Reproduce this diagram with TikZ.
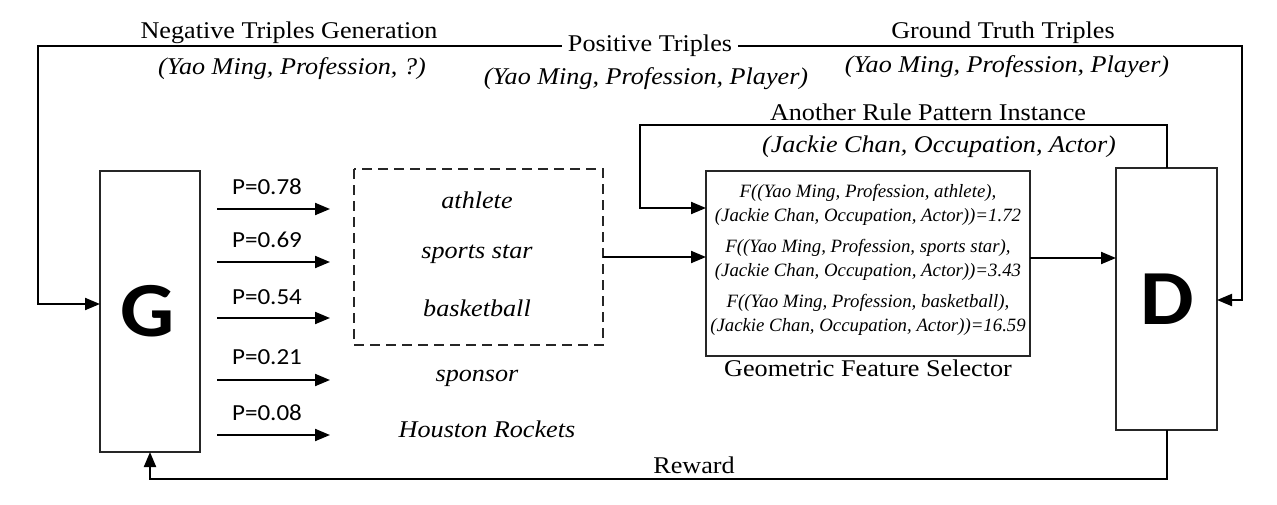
\documentclass[tikz,border=0pt]{standalone}
\usepackage{fontspec}
\setmainfont{Liberation Serif}[FakeStretch=1.09]
\newfontfamily\ifont{Liberation Serif Italic}[FakeStretch=1.09]
\newfontfamily\ffont{Liberation Serif Italic}
\newfontfamily\pfont{Carlito}[FakeStretch=1.09]
\usetikzlibrary{arrows.meta}
\tikzset{
  box/.style={draw=black!85, line width=1.3pt},
  conn/.style={line width=2pt, -{Triangle[length=15pt,width=12pt]}},
  lbl/.style={inner sep=0pt, font=\fontsize{24}{28}\selectfont},
  ilbl/.style={inner sep=0pt, font=\ifont\fontsize{24}{28}\selectfont},
  plbl/.style={inner sep=0pt, font=\pfont\fontsize{23}{27}\selectfont},
  ftxt/.style={inner sep=0pt, font=\ffont\fontsize{18.8}{20}\selectfont},
  big/.style={inner sep=0pt, font=\pfont\bfseries\fontsize{78}{80}\selectfont}
}
\begin{document}
\begin{tikzpicture}[x=1pt,y=1pt]
\useasboundingbox (0,0) rectangle (1277,-504);
% boxes
\draw[box] (100,-171) rectangle (200,-452);
\node[big] (G) at (148,-311) {G};
\coordinate (Gw) at (100,-304);
\coordinate (Gs) at (150,-452);
\draw[box] (1116,-168) rectangle (1217,-430);
\node[big] (D) at (1167,-299) {D};
\coordinate (Dwin) at (1116,-258);
\coordinate (Dein) at (1217,-300);
\coordinate (Dn) at (1167,-168);
\coordinate (Ds) at (1167,-430);
\draw[box, dashed, dash pattern=on 10pt off 6pt] (354,-169) rectangle (603,-345);
\coordinate (DBe) at (603,-257);
\draw[box] (706,-171) rectangle (1030,-356);
\coordinate (Fw1) at (706,-208);
\coordinate (Fw2) at (706,-257);
\coordinate (Fe) at (1030,-258);
% top labels
\node[lbl] (neg) at (289,-33) {Negative Triples Generation};
\node[ilbl] (negt) at (292,-69) {(Yao Ming, Profession, ?)};
\node[lbl, inner xsep=6pt] (pos) at (650,-46) {Positive Triples};
\node[ilbl] (post) at (646,-79) {(Yao Ming, Profession, Player)};
\node[lbl] (gt) at (1003,-33) {Ground Truth Triples};
\node[ilbl] (gtt) at (1007,-67) {(Yao Ming, Profession, Player)};
\node[lbl] (arp) at (928,-112) {Another Rule Pattern Instance};
\node[ilbl] (arpt) at (939,-147) {(Jackie Chan, Occupation, Actor)};
\node[lbl] (gfs) at (868,-368) {Geometric Feature Selector};
\node[lbl] (rew) at (694,-465) {Reward};
% connectors top
\coordinate (tl) at (38,-46);
\coordinate (tr) at (1242,-46);
\draw[conn] (pos.west) -- (tl) |- (Gw);
\draw[conn] (pos.east) -- (tr) |- (Dein);
\coordinate (ar1) at (1167,-125);
\coordinate (ar2) at (640,-125);
\draw[conn] (Dn) -- (ar1) -- (ar2) |- (Fw1);
\draw[conn] (DBe) -- (Fw2);
\draw[conn] (Fe) -- (Dwin);
\coordinate (rw) at (1167,-479);
\draw[conn] (Ds) -- (rw) -| (Gs);
% candidates
\foreach \n/\y/\p/\ly in {1/209/0.78/187, 2/262/0.69/240, 3/318/0.54/297, 4/380/0.21/357, 5/435/0.08/413}{
  \coordinate (a\n) at (217,-\y);
  \coordinate (b\n) at (330,-\y);
  \draw[conn] (a\n) -- (b\n);
  \node[plbl] (p\n) at (267,-\ly) {P=\p};
}
\node[ilbl] (c1) at (477,-200) {athlete};
\node[ilbl] (c2) at (477,-254) {sports star};
\node[ilbl] (c3) at (477,-308) {basketball};
\node[ilbl] (c4) at (477,-378) {sponsor};
\node[ilbl] (c5) at (487,-429) {Houston Rockets};
% feature texts
\node[ftxt] (f1) at (868,-193) {F((Yao Ming, Profession, athlete),};
\node[ftxt] (f2) at (868,-217) {(Jackie Chan, Occupation, Actor))=1.72};
\node[ftxt] (f3) at (868,-248) {F((Yao Ming, Profession, sports star),};
\node[ftxt] (f4) at (868,-272) {(Jackie Chan, Occupation, Actor))=3.43};
\node[ftxt] (f5) at (868,-303) {F((Yao Ming, Profession, basketball),};
\node[ftxt] (f6) at (868,-327) {(Jackie Chan, Occupation, Actor))=16.59};
\end{tikzpicture}
\end{document}
